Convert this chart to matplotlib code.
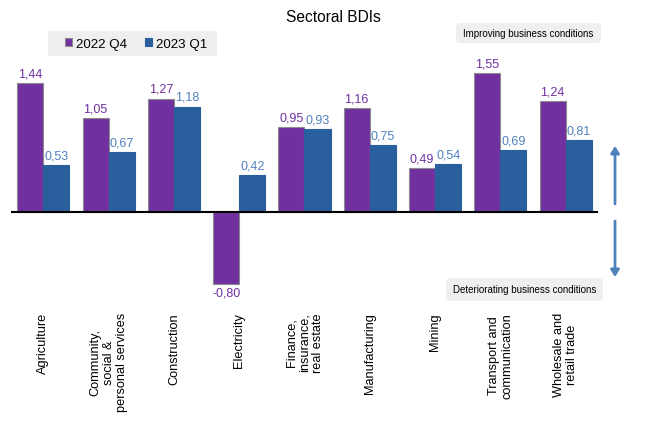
import numpy as np
import matplotlib
matplotlib.use('Agg')
import matplotlib.pyplot as plt
from matplotlib.patches import FancyArrowPatch, FancyBboxPatch, Rectangle

plt.rcParams['font.family'] = ['Liberation Sans', 'DejaVu Sans']

sectors = ['Agriculture', 'Community,\nsocial &\npersonal services', 'Construction', 'Electricity',
           'Finance,\ninsurance,\nreal estate', 'Manufacturing', 'Mining',
           'Transport and\ncommunication', 'Wholesale and\nretail trade']
q4_2022 = [1.44, 1.05, 1.27, -0.80, 0.95, 1.16, 0.49, 1.55, 1.24]
q1_2023 = [0.53, 0.67, 1.18, 0.42, 0.93, 0.75, 0.54, 0.69, 0.81]

c_purple = '#7030A0'
c_blue = '#2A5F9E'
c_blue_txt = '#4F81BD'
W, H = 650, 427

fig = plt.figure(figsize=(6.5, 4.27), dpi=100)
ax = fig.add_axes([10.7/W, 1 - 300/H, 587.6/W, 250/H])
ax.patch.set_visible(False)

x = np.arange(len(sectors))
w = 0.40
ax.bar(x - w/2, q4_2022, w, color=c_purple, edgecolor='#8C8C8C', linewidth=0.8, label='2022 Q4')
ax.bar(x + w/2, q1_2023, w, color=c_blue, edgecolor=c_blue, linewidth=0.8, label='2023 Q1')

for xi, v in zip(x, q4_2022):
    y = v + 0.04 if v > 0 else v - 0.03
    ax.text(xi - w/2, y, f'{v:.2f}'.replace('.', ','), ha='center', va='bottom' if v > 0 else 'top',
            color=c_purple, fontsize=9)
for xi, v in zip(x, q1_2023):
    ax.text(xi + w/2, v + 0.04, f'{v:.2f}'.replace('.', ','), ha='center', va='bottom',
            color=c_blue_txt, fontsize=9)

ax.axhline(0, color='black', linewidth=1.5)
ax.set_xlim(-0.5, 8.5)
ax.set_ylim(-(300 - 213.3)/89.6, (213.3 - 50)/89.6)
for s in ax.spines.values():
    s.set_visible(False)
ax.set_xticks([])
ax.set_yticks([])

# category labels below the chart
for xi, name in zip(x, sectors):
    ax.annotate(name, xy=(xi, 0), xycoords=('data', 'figure fraction'), xytext=(xi, 1 - 313/H),
                textcoords=('data', 'figure fraction'), rotation=90, ha='center', va='top',
                multialignment='center', fontsize=9.2, linespacing=1.15)

fig.text(333.5/W, 1 - 18/H, 'Sectoral BDIs', ha='center', va='center', fontsize=11.2)

# legend on a grey panel
fig.patches.append(Rectangle((48/W, 1 - 57/H), 169/W, 25/H, transform=fig.transFigure,
                             facecolor='#EFEFEF', edgecolor='none', zorder=-1))
handles, labels = ax.get_legend_handles_labels()
leg = fig.legend(handles, labels, loc='center left', bbox_to_anchor=(65/W, 1 - 45/H),
                 ncol=2, frameon=False, fontsize=9.6, handlelength=0.55, handleheight=0.55,
                 handletextpad=0.3, columnspacing=1.3, borderpad=0, borderaxespad=0)
leg.set_zorder(5)

def note(x0, y0, x1, y1, txt):
    fig.patches.append(FancyBboxPatch((x0/W, 1 - y1/H), (x1 - x0)/W, (y1 - y0)/H,
                                      boxstyle='round,pad=0,rounding_size=0.008', transform=fig.transFigure,
                                      facecolor='#EFEFEF', edgecolor='none', zorder=-1))
    fig.text((x0 + x1)/2/W, 1 - (y0 + y1)/2/H, txt, ha='center', va='center', fontsize=7.0)

note(456, 24, 601, 44, 'Improving business conditions')
note(446, 279, 603, 302, 'Deteriorating business conditions')

for y0, y1 in [(205, 147), (222, 278)]:
    fig.patches.append(FancyArrowPatch((615/W, 1 - y0/H), (615/W, 1 - y1/H),
                                       transform=fig.transFigure, arrowstyle='-|>,head_length=4,head_width=2.5',
                                       color=c_blue_txt, linewidth=2, shrinkA=0, shrinkB=0))

fig.savefig('out.png', dpi=100)
